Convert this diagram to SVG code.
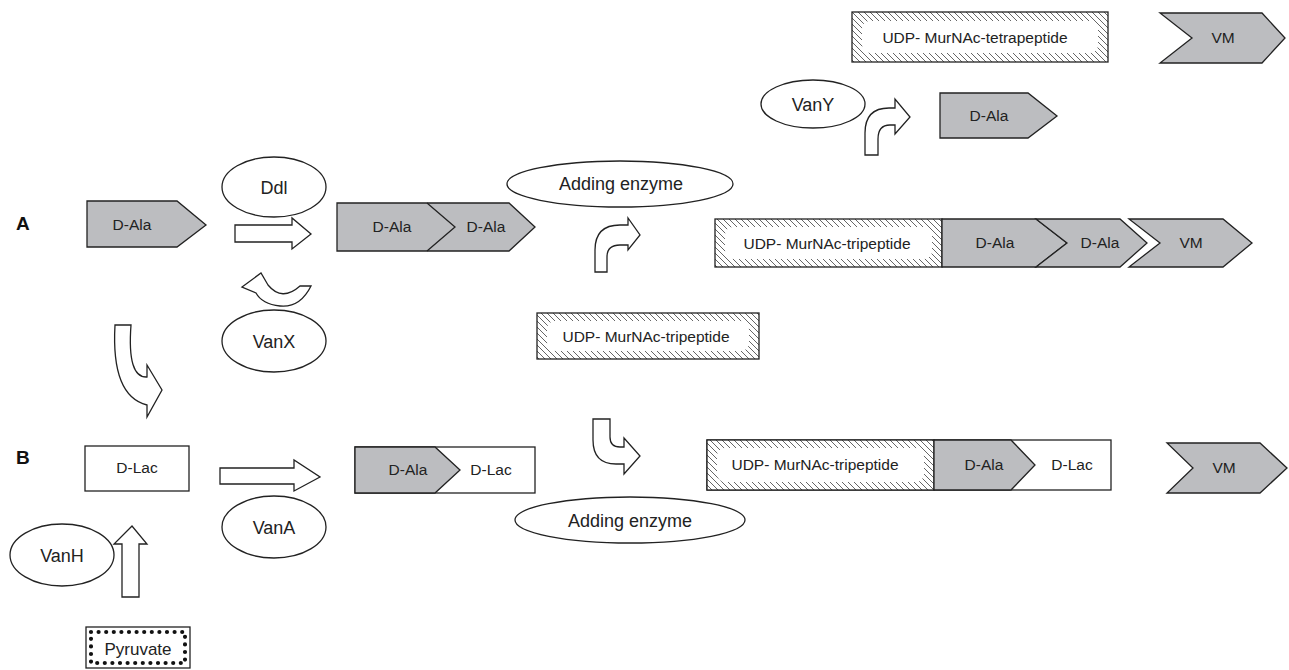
<svg xmlns="http://www.w3.org/2000/svg" width="1289" height="670" viewBox="0 0 1289 670">
  <defs>
    <!-- diagonal hatch used for the UDP-MurNAc blocks -->
    <pattern id="hatch" patternUnits="userSpaceOnUse" width="6" height="6">
      <rect width="6" height="6" fill="#fff"/>
      <path d="M0,0 L6,6 M-1,5 L1,7 M5,-1 L7,1" stroke="#333" stroke-width="0.75"/>
    </pattern>
    <style>
      .ln { stroke: #222; stroke-width: 1.3; stroke-linejoin: miter; }
      .gray { fill: #bcbdc0; }
      .white { fill: #fff; }
      .block { fill: #fff; stroke: #222; stroke-width: 1.3; stroke-linejoin: miter; }
      .enz { fill: #fff; stroke: #222; stroke-width: 1.3; }
      .lbl { font-family: "Liberation Sans", Arial, sans-serif; font-size: 15.5px; fill: #222; text-anchor: middle; }
      .elbl { font-family: "Liberation Sans", Arial, sans-serif; font-size: 18px; fill: #222; text-anchor: middle; }
      .tag { font-family: "Liberation Sans", Arial, sans-serif; font-size: 19px; font-weight: bold; fill: #111; }
      .dots { fill: none; stroke: #111; stroke-width: 4.2; stroke-linecap: round; stroke-dasharray: 0 7.6; }
    </style>
  </defs>
  <rect width="1289" height="670" fill="#fff"/>

  <!-- pathway labels -->
  <text class="tag" x="16" y="230">A</text>
  <text class="tag" x="16" y="464">B</text>

  <!-- ===== Pathway A ===== -->
  <g id="dala-a">
    <path class="ln gray" d="M87,201 L177,201 L206,225 L177,247 L87,247 Z"/>
    <text class="lbl" x="132" y="230">D-Ala</text>
  </g>

  <g id="ddl">
    <ellipse class="enz" cx="274" cy="187" rx="52" ry="30"/>
    <text class="elbl" x="274" y="194">Ddl</text>
  </g>

  <g id="dala-dala">
    <path class="ln gray" d="M337,203 L509,203 L535,227 L509,251 L337,251 Z"/>
    <path class="ln" fill="none" d="M427,203 L455,227 L427,251"/>
    <text class="lbl" x="392" y="232">D-Ala</text>
    <text class="lbl" x="486" y="232">D-Ala</text>
  </g>

  <g id="vanx">
    <ellipse class="enz" cx="274" cy="341" rx="52" ry="31"/>
    <text class="elbl" x="274" y="348">VanX</text>
  </g>

  <g id="adding-enzyme-a">
    <ellipse class="enz" cx="620" cy="184" rx="113" ry="23"/>
    <text class="elbl" x="621" y="190">Adding enzyme</text>
  </g>

  <g id="udp-tripeptide-free">
    <rect class="ln" fill="url(#hatch)" x="537" y="313" width="222" height="46"/>
    <rect class="white" x="547" y="321" width="202" height="30" rx="8"/>
    <text class="lbl" x="646" y="342">UDP- MurNAc-tripeptide</text>
  </g>

  <g id="pentapeptide-vm">
    <rect class="ln" fill="url(#hatch)" x="715" y="219" width="227" height="48"/>
    <rect class="white" x="725" y="227" width="207" height="32" rx="8"/>
    <text class="lbl" x="827" y="249">UDP- MurNAc-tripeptide</text>
    <path class="ln gray" d="M942,219 L1036,219 L1067,243 L1036,267 L942,267 Z"/>
    <path class="ln gray" d="M1036,219 L1120,219 L1147,243 L1120,267 L1036,267 L1067,243 Z"/>
    <path class="ln gray" d="M1129,219 L1223,219 L1252,243 L1223,267 L1129,267 L1160,243 Z"/>
    <text class="lbl" x="995" y="248">D-Ala</text>
    <text class="lbl" x="1100" y="248">D-Ala</text>
    <text class="lbl" x="1191" y="248">VM</text>
  </g>

  <g id="udp-tetrapeptide">
    <rect class="ln" fill="url(#hatch)" x="852" y="12" width="256" height="50"/>
    <rect class="white" x="862" y="21" width="236" height="32" rx="8"/>
    <text class="lbl" x="975" y="43">UDP- MurNAc-tetrapeptide</text>
  </g>

  <g id="vm-top">
    <path class="ln gray" d="M1160,13 L1262,13 L1285,38 L1262,63 L1160,63 L1192,38 Z"/>
    <text class="lbl" x="1223" y="43">VM</text>
  </g>

  <g id="vany">
    <ellipse class="enz" cx="813" cy="104" rx="52" ry="24"/>
    <text class="elbl" x="813" y="111">VanY</text>
  </g>

  <g id="dala-released">
    <path class="ln gray" d="M940,93 L1028,93 L1057,116 L1028,138 L940,138 Z"/>
    <text class="lbl" x="989" y="121">D-Ala</text>
  </g>

  <!-- ===== Pathway B ===== -->
  <g id="dlac">
    <rect class="block" x="85" y="446" width="104" height="45"/>
    <text class="lbl" x="137" y="473">D-Lac</text>
  </g>

  <g id="vanh">
    <ellipse class="enz" cx="62" cy="555" rx="52" ry="31"/>
    <text class="elbl" x="62" y="562">VanH</text>
  </g>

  <g id="pyruvate">
    <rect class="block" x="86" y="627" width="104" height="41"/>
    <rect class="dots" x="91" y="632" width="94" height="31"/>
    <text class="elbl" x="138" y="655" style="font-size:17px">Pyruvate</text>
  </g>

  <g id="vana">
    <ellipse class="enz" cx="274" cy="527" rx="52" ry="31"/>
    <text class="elbl" x="274" y="534">VanA</text>
  </g>

  <g id="dala-dlac">
    <rect class="block" x="355" y="447" width="180" height="46"/>
    <path class="ln gray" d="M355,447 L435,447 L460,470 L435,493 L355,493 Z"/>
    <text class="lbl" x="408" y="475">D-Ala</text>
    <text class="lbl" x="491" y="475">D-Lac</text>
  </g>

  <g id="adding-enzyme-b">
    <ellipse class="enz" cx="630" cy="520" rx="115" ry="23"/>
    <text class="elbl" x="630" y="527">Adding enzyme</text>
  </g>

  <g id="depsipeptide">
    <rect class="block" x="707" y="440" width="404" height="50"/>
    <rect class="ln" fill="url(#hatch)" x="707" y="440" width="227" height="50"/>
    <rect class="white" x="717" y="448" width="207" height="34" rx="8"/>
    <text class="lbl" x="815" y="470">UDP- MurNAc-tripeptide</text>
    <path class="ln gray" d="M934,440 L1011,440 L1035,465 L1011,490 L934,490 Z"/>
    <text class="lbl" x="984" y="470">D-Ala</text>
    <text class="lbl" x="1072" y="470">D-Lac</text>
  </g>

  <g id="vm-bottom">
    <path class="ln gray" d="M1167,443 L1260,443 L1287,468 L1260,493 L1167,493 L1193,468 Z"/>
    <text class="lbl" x="1224" y="473">VM</text>
  </g>

  <!-- ===== block arrows ===== -->
  <g id="connectors" fill="#fff" stroke="#222" stroke-width="1.3" stroke-linejoin="miter">
    <!-- Ddl: D-Ala to D-Ala-D-Ala -->
    <path d="M235,225 L292,225 L292,218 L311,234 L292,249 L292,242 L235,242 Z"/>
    <!-- VanX: hydrolysis back to D-Ala -->
    <path d="M242,287 L261,273 L268,285 Q282,302 300,286 L311,286 Q300,308 280,306 Q262,304 256,293 Z"/>
    <!-- A to B switch -->
    <path d="M115,325 L131,325 Q127,378 147,377 L147,365 L162,390 L147,417 L147,405 Q111,396 115,325 Z"/>
    <!-- adding enzyme, pathway A -->
    <path d="M595,272 L595,250 Q595,225 620,225 L628,225 L628,218 L640,235 L628,250 L628,245 L620,245 Q607,245 607,257 L607,272 Z"/>
    <!-- VanY -->
    <path d="M865,155 L865,133 Q865,108 889,108 L895,108 L895,99 L910,117 L895,134 L895,125 L890,125 Q878,125 878,139 L878,155 Z"/>
    <!-- VanA: D-Lac to D-Ala-D-Lac -->
    <path d="M220,468 L294,468 L294,460 L320,477 L294,491 L294,484 L220,484 Z"/>
    <!-- VanH: pyruvate to D-Lac -->
    <path d="M122,597 L122,544 L114,544 L132,526 L147,544 L139,544 L139,597 Z"/>
    <!-- adding enzyme, pathway B -->
    <path d="M593,419 L610,419 L610,437 Q610,447 620,447 L624,447 L624,438 L640,456 L624,474 L624,464 L616,464 Q593,464 593,440 Z"/>
  </g>
</svg>
